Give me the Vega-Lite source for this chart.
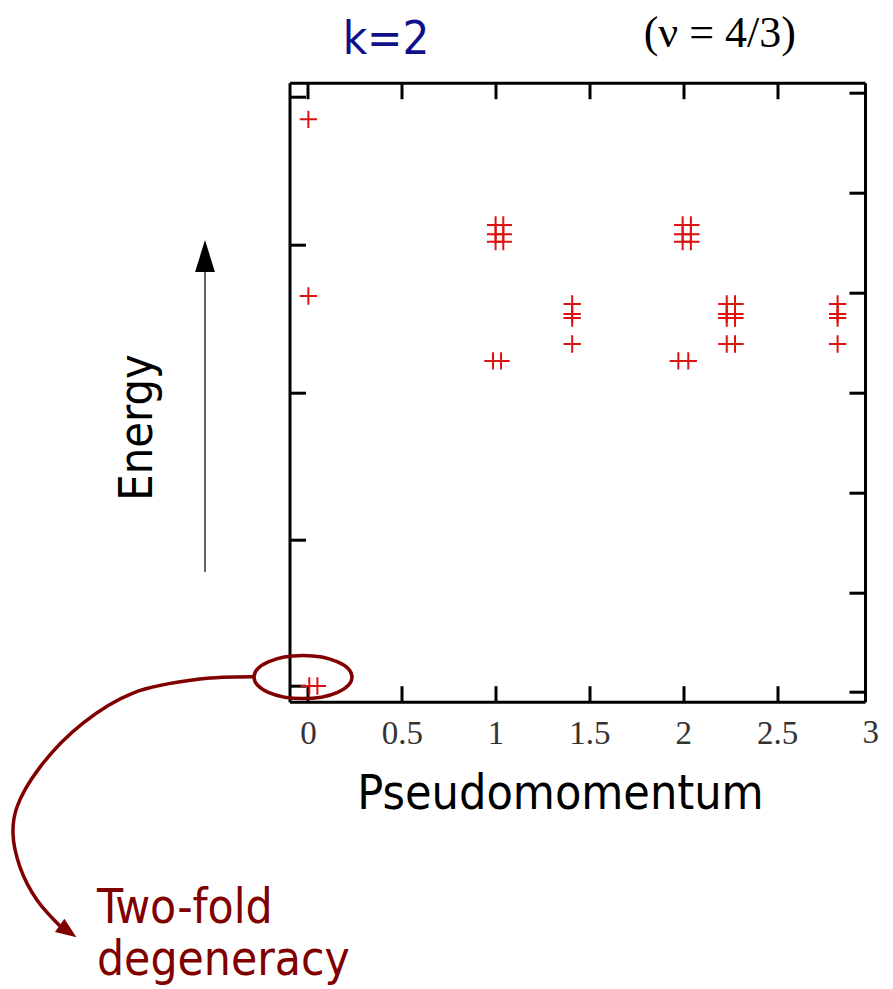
{
  "$schema": "https://vega.github.io/schema/vega-lite/v6.json",
  "autosize": {"type": "none"},
  "width": 575.5,
  "height": 619,
  "padding": {"left": 289.5, "top": 82.7, "right": 28, "bottom": 287.3},
  "background": "white",
  "config": {
    "view": {"stroke": null},
    "axis": {"domainColor": "black", "domainWidth": 3, "tickColor": "black", "tickWidth": 3, "tickSize": -16, "grid": false}
  },
  "datasets": {
    "levels": [
      {"p": 0.002, "E": 5.738}, {"p": 0.002, "E": 3.968}, {"p": 0.007, "E": 0.06}, {"p": 0.05, "E": 0.06},
      {"p": 1.0, "E": 4.679}, {"p": 1.0, "E": 4.586}, {"p": 1.0, "E": 4.512},
      {"p": 1.041, "E": 4.679}, {"p": 1.041, "E": 4.586}, {"p": 1.041, "E": 4.512},
      {"p": 0.986, "E": 3.317}, {"p": 1.029, "E": 3.317},
      {"p": 1.408, "E": 3.888}, {"p": 1.408, "E": 3.788}, {"p": 1.408, "E": 3.747}, {"p": 1.408, "E": 3.487},
      {"p": 1.997, "E": 4.679}, {"p": 1.997, "E": 4.586}, {"p": 1.997, "E": 4.512},
      {"p": 2.041, "E": 4.679}, {"p": 2.041, "E": 4.586}, {"p": 2.041, "E": 4.512},
      {"p": 1.974, "E": 3.317}, {"p": 2.027, "E": 3.317},
      {"p": 2.232, "E": 3.888}, {"p": 2.232, "E": 3.788}, {"p": 2.232, "E": 3.747}, {"p": 2.232, "E": 3.487},
      {"p": 2.276, "E": 3.888}, {"p": 2.276, "E": 3.788}, {"p": 2.276, "E": 3.747}, {"p": 2.276, "E": 3.487},
      {"p": 2.823, "E": 3.888}, {"p": 2.823, "E": 3.788}, {"p": 2.823, "E": 3.747}, {"p": 2.823, "E": 3.487}
    ],
    "ellipse": [{"p": -0.0267, "E": 0.15}],
    "curve": [
      {"i": 1, "p": -0.2825, "E": 0.153},
      {"i": 2, "p": -0.5757, "E": 0.13},
      {"i": 3, "p": -0.9328, "E": -0.01},
      {"i": 4, "p": -1.1994, "E": -0.311},
      {"i": 5, "p": -1.4286, "E": -0.752},
      {"i": 6, "p": -1.5512, "E": -1.152},
      {"i": 7, "p": -1.5725, "E": -1.413},
      {"i": 8, "p": -1.5352, "E": -1.754},
      {"i": 9, "p": -1.4446, "E": -2.084},
      {"i": 10, "p": -1.3113, "E": -2.365}
    ],
    "curvehead": [{"p": -1.279, "E": -2.397}],
    "earrow": [{"p": -0.549, "E": 1.202, "E2": 4.248}],
    "earrowhead": [{"p": -0.549, "E": 4.369}],
    "ktitle": [{"p": 0.416, "E": 6.393, "t": "k=2"}],
    "nutitle": [{"p": 2.195, "E": 6.466, "t": "(ν = 4/3)"}],
    "note": [{"p": -1.125, "E": -2.318, "t": "Two-fold"}, {"p": -1.125, "E": -2.836, "t": "degeneracy"}],
    "lastlabel": [{"p": 3, "E": -0.511, "t": "3"}]
  },
  "layer": [
    {
      "data": {"name": "levels"},
      "mark": {"type": "point", "shape": "M-1,0H1M0,-1V1", "size": 300, "filled": false, "stroke": "#dd1111", "strokeWidth": 2, "opacity": 1},
      "encoding": {
        "x": {"field": "p", "type": "quantitative", "scale": {"domain": [-0.0986, 2.969], "nice": false, "zero": false},
          "axis": {"orient": "bottom", "values": [0, 0.5, 1, 1.5, 2, 2.5], "format": "~g", "labelFont": "Liberation Serif", "labelFontSize": 33, "labelColor": "#333333", "labelBaseline": "alphabetic", "labelPadding": 57.3,
            "title": "Pseudomomentum", "titleFont": "DejaVu Sans Condensed, DejaVu Sans", "titleFontSize": 48, "titleFontWeight": "normal", "titleColor": "black", "titleX": 270.5, "titleY": 106.3, "titleBaseline": "alphabetic", "titleAlign": "center"}},
        "y": {"field": "E", "type": "quantitative", "scale": {"domain": [-0.097, 6.105], "nice": false, "zero": false},
          "axis": {"orient": "left", "values": [0.063, 1.526, 3.003, 4.486, 5.965], "labels": false,
            "title": "Energy", "titleFont": "DejaVu Sans Condensed, DejaVu Sans", "titleFontSize": 46.5, "titleFontWeight": "normal", "titleColor": "black", "titleAngle": 270, "titleX": -138.5, "titleY": 344.3, "titleBaseline": "alphabetic", "titleAlign": "center"}}
      }
    },
    {
      "data": {"name": "ellipse"},
      "mark": {"type": "point", "shape": "M-1,0A1,0.44,0,1,0,1,0A1,0.44,0,1,0,-1,0", "size": 9604, "filled": false, "stroke": "#800000", "strokeWidth": 3.5, "opacity": 1},
      "encoding": {
        "x": {"field": "p", "type": "quantitative", "scale": {"domain": [-0.0986, 2.969], "nice": false, "zero": false},
          "axis": {"orient": "top", "values": [0, 0.5, 1, 1.5, 2, 2.5], "labels": false, "title": null}},
        "y": {"field": "E", "type": "quantitative", "scale": {"domain": [-0.097, 6.105], "nice": false, "zero": false},
          "axis": {"orient": "right", "values": [0, 1, 2, 3, 4, 5, 6], "labels": false, "title": null}}
      }
    },
    {
      "data": {"name": "curve"},
      "mark": {"type": "line", "interpolate": "catmull-rom", "stroke": "#800000", "strokeWidth": 3.5},
      "encoding": {
        "x": {"field": "p", "type": "quantitative", "scale": {"domain": [-0.0986, 2.969], "nice": false, "zero": false}, "axis": null},
        "y": {"field": "E", "type": "quantitative", "scale": {"domain": [-0.097, 6.105], "nice": false, "zero": false}, "axis": null},
        "order": {"field": "i", "type": "quantitative"}
      }
    },
    {
      "data": {"name": "curvehead"},
      "mark": {"type": "point", "shape": "M1,0L-1,-0.8L-1,0.8Z", "size": 420, "filled": true, "fill": "#800000", "strokeWidth": 0, "angle": 35, "opacity": 1},
      "encoding": {
        "x": {"field": "p", "type": "quantitative", "axis": null},
        "y": {"field": "E", "type": "quantitative", "axis": null}
      }
    },
    {
      "data": {"name": "earrow"},
      "mark": {"type": "rule", "stroke": "black", "strokeWidth": 1.2},
      "encoding": {
        "x": {"field": "p", "type": "quantitative", "axis": null},
        "y": {"field": "E", "type": "quantitative", "axis": null},
        "y2": {"field": "E2"}
      }
    },
    {
      "data": {"name": "earrowhead"},
      "mark": {"type": "point", "shape": "M0,-1L0.62,1L-0.62,1Z", "size": 1024, "filled": true, "fill": "black", "strokeWidth": 0, "opacity": 1},
      "encoding": {
        "x": {"field": "p", "type": "quantitative", "axis": null},
        "y": {"field": "E", "type": "quantitative", "axis": null}
      }
    },
    {
      "data": {"name": "ktitle"},
      "mark": {"type": "text", "font": "DejaVu Sans Condensed, DejaVu Sans", "fontSize": 47, "color": "#10108a", "align": "center", "baseline": "alphabetic"},
      "encoding": {
        "x": {"field": "p", "type": "quantitative", "axis": null},
        "y": {"field": "E", "type": "quantitative", "axis": null},
        "text": {"field": "t"}
      }
    },
    {
      "data": {"name": "nutitle"},
      "mark": {"type": "text", "font": "Liberation Serif", "fontSize": 44, "color": "black", "align": "center", "baseline": "alphabetic"},
      "encoding": {
        "x": {"field": "p", "type": "quantitative", "axis": null},
        "y": {"field": "E", "type": "quantitative", "axis": null},
        "text": {"field": "t"}
      }
    },
    {
      "data": {"name": "note"},
      "mark": {"type": "text", "font": "DejaVu Sans Condensed, DejaVu Sans", "fontSize": 47.5, "color": "#800000", "align": "left", "baseline": "alphabetic"},
      "encoding": {
        "x": {"field": "p", "type": "quantitative", "axis": null},
        "y": {"field": "E", "type": "quantitative", "axis": null},
        "text": {"field": "t"}
      }
    },
    {
      "data": {"name": "lastlabel"},
      "mark": {"type": "text", "font": "Liberation Serif", "fontSize": 33, "color": "#333333", "align": "center", "baseline": "alphabetic"},
      "encoding": {
        "x": {"field": "p", "type": "quantitative", "axis": null},
        "y": {"field": "E", "type": "quantitative", "axis": null},
        "text": {"field": "t"}
      }
    }
  ],
  "resolve": {"axis": {"x": "independent", "y": "independent"}}
}
